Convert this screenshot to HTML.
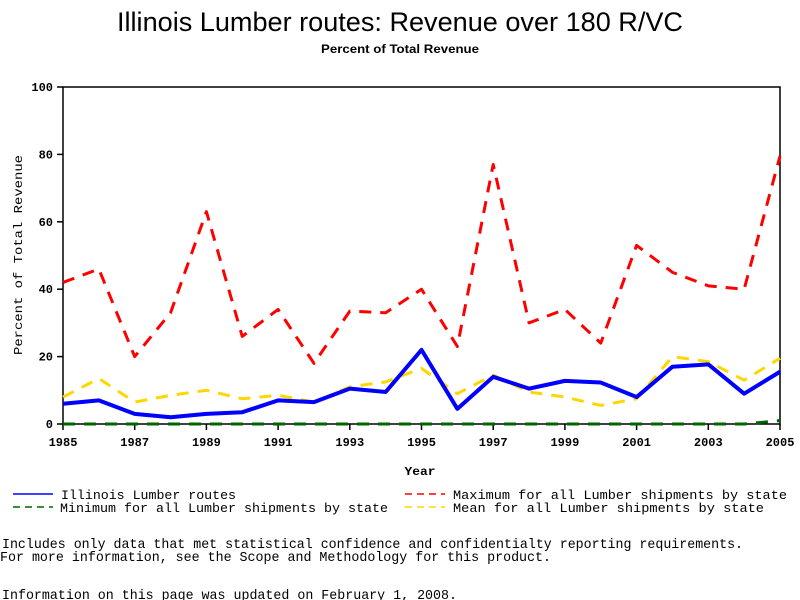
<!DOCTYPE html>
<html><head><meta charset="utf-8"><style>
body{margin:0;background:#fff;width:800px;height:600px;overflow:hidden}
svg{display:block}
text{font-family:"Liberation Mono",monospace;fill:#000}
</style></head><body>
<svg id="chart" width="800" height="600" xmlns="http://www.w3.org/2000/svg">
<text x="400" y="31" text-anchor="middle" style="font-family:'Liberation Sans',sans-serif;font-size:27px" textLength="566" lengthAdjust="spacingAndGlyphs">Illinois Lumber routes: Revenue over 180 R/VC</text>
<text x="400" y="53" text-anchor="middle" style="font-family:'Liberation Sans',sans-serif;font-size:12px;font-weight:bold" textLength="158" lengthAdjust="spacingAndGlyphs">Percent of Total Revenue</text>
<rect x="63" y="87" width="717" height="337" fill="none" stroke="#000" stroke-width="1.5"/>
<g id="ticks"></g>
<g id="series"></g>
<text x="420" y="475" text-anchor="middle" style="font-size:12px;font-weight:bold" textLength="31" lengthAdjust="spacingAndGlyphs">Year</text>
<text transform="translate(22,255) rotate(-90)" text-anchor="middle" style="font-size:12px" textLength="200" lengthAdjust="spacingAndGlyphs">Percent of Total Revenue</text>
<g style="font-size:13px">
<line x1="13" y1="494" x2="53" y2="494" stroke="#0000ff" stroke-width="1.5"/>
<text x="61" y="499" textLength="175" lengthAdjust="spacingAndGlyphs">Illinois Lumber routes</text>
<line x1="13" y1="507" x2="53" y2="507" stroke="#006400" stroke-width="1.5" stroke-dasharray="7,5"/>
<text x="60" y="512" textLength="328" lengthAdjust="spacingAndGlyphs">Minimum for all Lumber shipments by state</text>
<line x1="405" y1="494" x2="445" y2="494" stroke="#ff0000" stroke-width="1.5" stroke-dasharray="7,5"/>
<text x="453" y="499" textLength="334" lengthAdjust="spacingAndGlyphs">Maximum for all Lumber shipments by state</text>
<line x1="405" y1="507" x2="445" y2="507" stroke="#ffd700" stroke-width="1.5" stroke-dasharray="7,5"/>
<text x="453" y="512" textLength="311" lengthAdjust="spacingAndGlyphs">Mean for all Lumber shipments by state</text>
</g>
<g style="font-size:14px">
<text x="2" y="548" textLength="741" lengthAdjust="spacingAndGlyphs">Includes only data that met statistical confidence and confidentialty reporting requirements.</text>
<text x="0" y="561" textLength="551" lengthAdjust="spacingAndGlyphs">For more information, see the Scope and Methodology for this product.</text>
<text x="2" y="599" textLength="455" lengthAdjust="spacingAndGlyphs">Information on this page was updated on February 1, 2008.</text>
</g>
</svg>
<script>
const years=[1985,1986,1987,1988,1989,1990,1991,1992,1993,1994,1995,1996,1997,1998,1999,2000,2001,2002,2003,2004,2005];
const illinois=[6,7,3,2,3,3.5,7,6.5,10.5,9.5,22,4.5,14,10.5,12.8,12.3,8,17,17.7,9,15.5];
const maximum=[42,46,20,33,63,26,34,18,33.5,33,40,23,77,30,34,24,53,45,41,40,79.5];
const minimum=[0,0,0,0,0,0,0,0,0,0,0,0,0,0,0,0,0,0,0,0,1];
const mean=[8,13.5,6.5,8.5,10,7.5,8.5,6.5,11,12.5,16.5,9,14.5,9.5,8,5.5,7.5,20,18.5,13,19.5];
const xTicks=[1985,1987,1989,1991,1993,1995,1997,1999,2001,2003,2005];
const yTicks=[0,20,40,60,80,100];
const NS="http://www.w3.org/2000/svg";
const X=v=>63+(v-1985)*(717/20);
const Y=v=>424-v*3.37;
const tg=document.getElementById('ticks');
function mk(t,a,p){const e=document.createElementNS(NS,t);for(const k in a)e.setAttribute(k,a[k]);p.appendChild(e);return e;}
xTicks.forEach(v=>{
 const l=mk('line',{x1:X(v),x2:X(v),y1:424,y2:430,stroke:'#000','stroke-width':1.5},tg);
 
 
 const t=mk('text',{x:X(v),y:446,'text-anchor':'middle','font-size':'12','font-weight':'bold'},tg);t.textContent=v;
 
 
});
yTicks.forEach(v=>{
 const l=mk('line',{x1:57,x2:63,y1:Y(v),y2:Y(v),stroke:'#000','stroke-width':1.5},tg);
 
 
 const t=mk('text',{x:53,y:Y(v)+4,'text-anchor':'end','font-size':'12','font-weight':'bold'},tg);t.textContent=v;
 
 
});
const sg=document.getElementById('series');
function line(vals,color,dash,w,name){
 const p=mk('polyline',{points:vals.map((v,i)=>X(years[i])+','+Y(v)).join(' '),fill:'none',stroke:color,'stroke-width':w,'stroke-dasharray':dash,'stroke-linejoin':'round'},sg);
 
 
}
line(minimum,'#006400','12,9',3,'minimum-line');
line(mean,'#ffd700','12,9',3,'mean-line');
line(maximum,'#ff0000','12,9',3,'maximum-line');
line(illinois,'#0000ff','none',4,'illinois-line');
</script>
</body></html>
